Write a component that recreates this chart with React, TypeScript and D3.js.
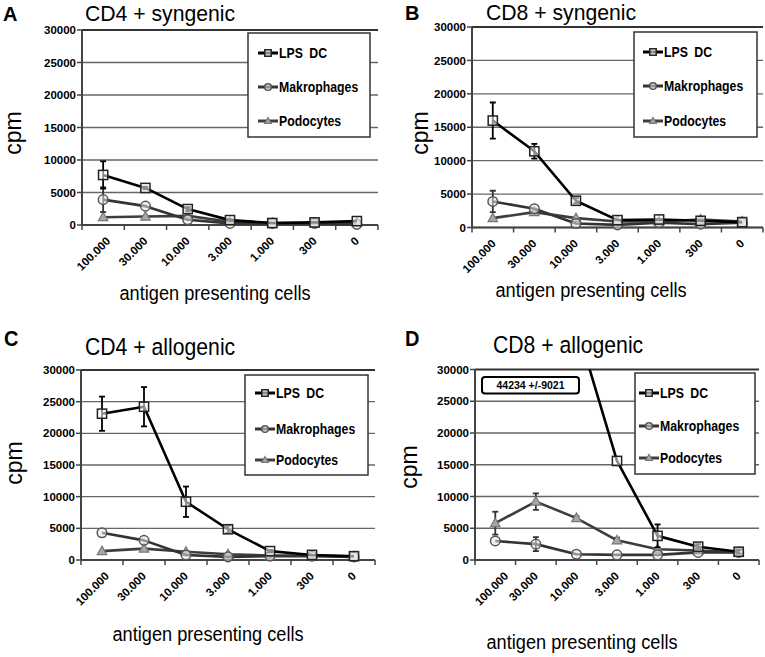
import React from "react";
import * as d3 from "d3";

const categories = ["100.000", "30.000", "10.000", "3.000", "1.000", "300", "0"];
const yTicks = [0, 5000, 10000, 15000, 20000, 25000, 30000];
const seriesNames = ["LPS DC", "Makrophages", "Podocytes"];

// Panel A: CD4 + syngenic
const aLps = [7700, 5700, 2450, 750, 300, 400, 600];
const aLpsErr = [2100, 200, 300, 100, 0, 0, 0];
const aMak = [3900, 2900, 800, 250, 250, 250, 100];
const aMakErr = [1900, 0, 0, 0, 0, 0, 0];
const aPod = [1200, 1300, 1400, 500, 300, 300, 400];
const aPodErr = [0, 0, 0, 0, 0, 0, 0];

// Panel B: CD8 + syngenic
const bLps = [16000, 11400, 4000, 1100, 1200, 1000, 800];
const bLpsErr = [2700, 1100, 400, 0, 0, 0, 0];
const bMak = [3900, 2800, 600, 400, 700, 500, 700];
const bMakErr = [1600, 0, 0, 0, 0, 0, 0];
const bPod = [1400, 2300, 1400, 900, 900, 1200, 900];
const bPodErr = [0, 0, 0, 0, 0, 0, 0];

// Panel C: CD4 + allogenic
const cLps = [23100, 24200, 9200, 4850, 1400, 800, 600];
const cLpsErr = [2700, 3100, 2400, 600, 200, 0, 0];
const cMak = [4300, 3100, 800, 500, 600, 600, 500];
const cMakErr = [0, 0, 0, 0, 0, 0, 0];
const cPod = [1400, 1800, 1300, 900, 700, 700, 600];
const cPodErr = [0, 0, 0, 0, 0, 0, 0];

// Panel D: CD8 + allogenic
const dLps = [44234, 42000, 37000, 15600, 3800, 2100, 1300];
const dLpsErr = [9021, 0, 0, 0, 1800, 400, 300];
const dMak = [3000, 2500, 900, 800, 800, 1200, 1200];
const dMakErr = [0, 1100, 0, 0, 0, 0, 0];
const dPod = [5800, 9200, 6600, 3100, 1700, 1500, 1200];
const dPodErr = [1800, 1300, 300, 400, 0, 0, 0];
const dNote = "44234 +/-9021";

const FONT = "'Liberation Sans', Arial, Helvetica, sans-serif";
const VS = 1.12;

type Panel = {
  key: string;
  title: string;
  lps: number[]; lpsErr: number[];
  mak: number[]; makErr: number[];
  pod: number[]; podErr: number[];
  x0: number; x1: number; yTop: number; yBot: number;
  letterX: number; letterY: number;
  titleX: number; titleY: number; titleVS: number;
  cpmX: number; cpmY: number;
  xlabX: number; xlabY: number;
  leg: { x: number; y: number; w: number; h: number; rows: number[]; sx: number };
  firstShift: number;
  note?: string;
};

const panels: Panel[] = [
  {
    key: "A", title: "CD4 + syngenic",
    lps: aLps, lpsErr: aLpsErr, mak: aMak, makErr: aMakErr, pod: aPod, podErr: aPodErr,
    x0: 82, x1: 378, yTop: 30, yBot: 225,
    letterX: 3, letterY: 20.5, titleX: 85, titleY: 20.5, titleVS: 1.04,
    cpmX: 13, cpmY: 133, xlabX: 215, xlabY: 300,
    leg: { x: 248, y: 33, w: 122, h: 104, rows: [20, 54, 88], sx: 10 },
    firstShift: 5,
  },
  {
    key: "B", title: "CD8 + syngenic",
    lps: bLps, lpsErr: bLpsErr, mak: bMak, makErr: bMakErr, pod: bPod, podErr: bPodErr,
    x0: 472, x1: 763, yTop: 27, yBot: 227.5,
    letterX: 405, letterY: 20, titleX: 486, titleY: 20, titleVS: 1.04,
    cpmX: 420, cpmY: 133, xlabX: 591, xlabY: 297,
    leg: { x: 634, y: 32, w: 123, h: 105, rows: [20, 54, 89], sx: 9 },
    firstShift: 1,
  },
  {
    key: "C", title: "CD4 + allogenic",
    lps: cLps, lpsErr: cLpsErr, mak: cMak, makErr: cMakErr, pod: cPod, podErr: cPodErr,
    x0: 81, x1: 375, yTop: 370, yBot: 560,
    letterX: 4, letterY: 346, titleX: 85, titleY: 355, titleVS: VS,
    cpmX: 14, cpmY: 463, xlabX: 208, xlabY: 641,
    leg: { x: 245, y: 375, w: 123, h: 100, rows: [18, 54, 85], sx: 10 },
    firstShift: 5,
  },
  {
    key: "D", title: "CD8 + allogenic",
    lps: dLps, lpsErr: dLpsErr, mak: dMak, makErr: dMakErr, pod: dPod, podErr: dPodErr,
    x0: 475, x1: 759, yTop: 369.5, yBot: 560,
    letterX: 405, letterY: 346, titleX: 493, titleY: 353, titleVS: VS,
    cpmX: 409, cpmY: 467, xlabX: 582, xlabY: 649,
    leg: { x: 635, y: 373, w: 120, h: 101, rows: [20, 53, 85], sx: 4 },
    firstShift: 11,
    note: dNote,
  },
];

const styles = [
  { line: "#000", lw: 2.6, err: "#000" },
  { line: "#333", lw: 2.6, err: "#333" },
  { line: "#3d3d3d", lw: 2.6, err: "#333" },
];

function Marker({ kind, cx, cy, s = 1 }: { kind: number; cx: number; cy: number; s?: number }) {
  if (kind === 0) {
    const h = 4.6 * s;
    return <rect x={cx - h} y={cy - h} width={2 * h} height={2 * h} fill="rgba(255,255,255,0.55)" stroke="#222" strokeWidth={1.5} />;
  }
  if (kind === 1) {
    return <circle cx={cx} cy={cy} r={4.8 * s} fill="rgba(230,230,230,0.55)" stroke="#555" strokeWidth={1.5} />;
  }
  const r = 5 * s;
  const p = `M${cx},${cy - r} L${cx + r * 0.95},${cy + r * 0.7} L${cx - r * 0.95},${cy + r * 0.7} Z`;
  return <path d={p} fill="#a8a8a8" stroke="#777" strokeWidth={1.2} />;
}

function PanelView({ p }: { p: Panel }) {
  const band = d3.scaleBand<string>().domain(categories).range([p.x0, p.x1]);
  const xc = (c: string) => (band(c) as number) + band.bandwidth() / 2;
  const y = d3.scaleLinear().domain([0, 30000]).range([p.yBot, p.yTop]);
  const line = d3.line<number>().x((_, i) => xc(categories[i])).y((d) => y(d));
  const series = [
    { v: p.lps, e: p.lpsErr },
    { v: p.mak, e: p.makErr },
    { v: p.pod, e: p.podErr },
  ];
  const clipId = `clip-${p.key}`;
  const order = [2, 1, 0];
  return (
    <g>
      <defs>
        <clipPath id={clipId}>
          <rect x={p.x0 - 10} y={p.yTop} width={p.x1 - p.x0 + 20} height={p.yBot - p.yTop + 20} />
        </clipPath>
      </defs>
      <text transform={`translate(${p.letterX},${p.letterY}) scale(1,${p.titleVS})`} fontFamily={FONT} fontWeight="bold" fontSize={20}>{p.key}</text>
      <text transform={`translate(${p.titleX},${p.titleY}) scale(1,${p.titleVS})`} fontFamily={FONT} fontSize={21.2}>{p.title}</text>
      {yTicks.map((t) => (
        <line key={t} x1={p.x0} x2={p.x1} y1={y(t)} y2={y(t)} stroke={t === 30000 ? "#333" : "#666"} strokeWidth={t === 30000 ? 2 : 1.4} />
      ))}
      <line x1={p.x0} x2={p.x0} y1={p.yTop} y2={p.yBot} stroke="#444" strokeWidth={2} />
      {yTicks.map((t) => (
        <g key={`yt${t}`}>
          <line x1={p.x0 - 5} x2={p.x0} y1={y(t)} y2={y(t)} stroke="#444" strokeWidth={1.5} />
          <text x={p.x0 - 6} y={y(t)} dy="0.36em" textAnchor="end" fontFamily={FONT} fontWeight="bold" fontSize={11.5}>{t}</text>
        </g>
      ))}
      <line x1={p.x0} x2={p.x1} y1={p.yBot} y2={p.yBot} stroke="#444" strokeWidth={2} />
      {categories.concat(["__end"]).map((c, i) => {
        const xx = i < categories.length ? (band(c) as number) : p.x1;
        return <line key={`xt${i}`} x1={xx} x2={xx} y1={p.yBot} y2={p.yBot + 5} stroke="#444" strokeWidth={1.5} />;
      })}
      {categories.map((c, i) => (
        <text key={`xl${c}`} transform={`translate(${xc(c) + (i === 0 ? p.firstShift : 0)},${p.yBot + 14}) rotate(-45)`} textAnchor="end" dominantBaseline="central" fontFamily={FONT} fontWeight="bold" fontSize={11.5}>{c}</text>
      ))}
      <text transform={`translate(${p.cpmX},${p.cpmY}) rotate(-90)`} textAnchor="middle" dominantBaseline="central" fontFamily={FONT} fontSize={23}>cpm</text>
      <text transform={`translate(${p.xlabX},${p.xlabY}) scale(1,${VS})`} textAnchor="middle" fontFamily={FONT} fontSize={18.2}>antigen presenting cells</text>
      <g clipPath={`url(#${clipId})`}>
        {order.map((k) => {
          const s = series[k];
          return (
            <g key={`s${k}`}>
              <path d={line(s.v) || ""} fill="none" stroke={styles[k].line} strokeWidth={styles[k].lw} strokeLinejoin="round" />
              {s.v.map((v, i) =>
                s.e[i] > 0 ? (
                  <g key={`e${i}`} stroke={styles[k].err} strokeWidth={1.8}>
                    <line x1={xc(categories[i])} x2={xc(categories[i])} y1={y(v + s.e[i])} y2={y(v - s.e[i])} />
                    <line x1={xc(categories[i]) - 3} x2={xc(categories[i]) + 3} y1={y(v + s.e[i])} y2={y(v + s.e[i])} />
                    <line x1={xc(categories[i]) - 3} x2={xc(categories[i]) + 3} y1={y(v - s.e[i])} y2={y(v - s.e[i])} />
                  </g>
                ) : null
              )}
              {s.v.map((v, i) => (
                <Marker key={`m${i}`} kind={k} cx={xc(categories[i])} cy={y(v)} />
              ))}
            </g>
          );
        })}
      </g>
      <rect x={p.leg.x} y={p.leg.y} width={p.leg.w} height={p.leg.h} fill="#fff" stroke="#333" strokeWidth={1.5} />
      {seriesNames.map((n, k) => {
        const ry = p.leg.y + p.leg.rows[k];
        const lx = p.leg.x + p.leg.sx;
        return (
          <g key={n}>
            <line x1={lx} x2={lx + 20} y1={ry} y2={ry} stroke={styles[k].line} strokeWidth={3} />
            <Marker kind={k} cx={lx + 10} cy={ry} s={0.7} />
            <text transform={`translate(${lx + 21},${ry}) scale(1,${VS})`} dy="0.36em" fontFamily={FONT} fontWeight="bold" fontSize={12.3} style={{ wordSpacing: "3px" }}>{n}</text>
          </g>
        );
      })}
      {p.note ? (
        <g>
          <rect x={482} y={377} width={97} height={16.5} rx={3} fill="#fff" stroke="#000" strokeWidth={2} />
          <text x={530.5} y={385.5} dy="0.36em" textAnchor="middle" fontFamily={FONT} fontWeight="bold" fontSize={10.5}>{p.note}</text>
        </g>
      ) : null}
    </g>
  );
}

export default function App() {
  return (
    <svg width={765} height={657} style={{ position: "absolute", left: 0, top: 0, background: "#fff" }}>
      <rect width={765} height={657} fill="#fff" />
      {panels.map((p) => (
        <PanelView key={p.key} p={p} />
      ))}
    </svg>
  );
}
